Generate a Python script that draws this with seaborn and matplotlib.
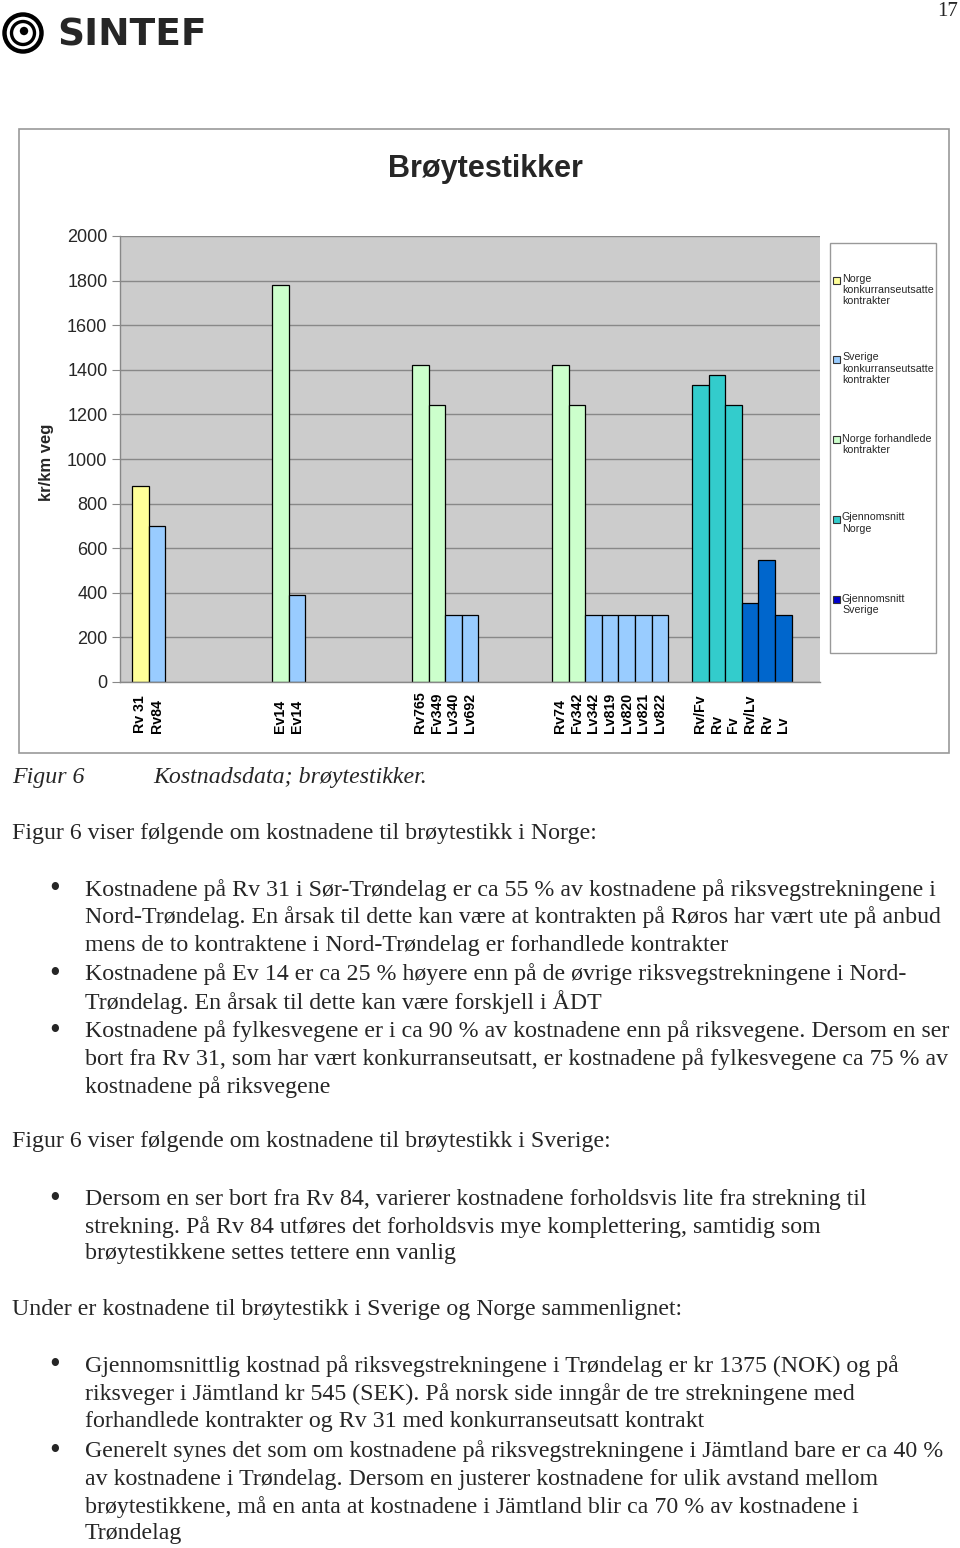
import numpy as np
import pandas as pd
import matplotlib
matplotlib.use("Agg")
import matplotlib.pyplot as plt
from matplotlib.patches import Rectangle, Ellipse
import seaborn as sns

# ---------------- data ----------------
groups = ["G1", "G2", "G3", "G4", "G5"]
g1_labels = ["Rv 31", "Rv84"]
g1_values = [880, 700]
g1_types = ["NK", "SK"]
g2_labels = ["Ev14", "Ev14"]
g2_values = [1780, 390]
g2_types = ["NF", "SK"]
g3_labels = ["Rv765", "Fv349", "Lv340", "Lv692"]
g3_values = [1420, 1240, 300, 300]
g3_types = ["NF", "NF", "SK", "SK"]
g4_labels = ["Rv74", "Fv342", "Lv342", "Lv819", "Lv820", "Lv821", "Lv822"]
g4_values = [1420, 1240, 300, 300, 300, 300, 300]
g4_types = ["NF", "NF", "SK", "SK", "SK", "SK", "SK"]
g5_labels = ["Rv/Fv", "Rv", "Fv", "Rv/Lv", "Rv", "Lv"]
g5_values = [1330, 1375, 1240, 355, 545, 300]
g5_types = ["GN", "GN", "GN", "GS", "GS", "GS"]

type_colors = {"NK": "#FFFF99", "SK": "#99CCFF", "NF": "#CCFFCC",
               "GN": "#33CCCC", "GS": "#0066CC"}
legend_labels = ["Norge\nkonkurranseutsatte\nkontrakter",
                 "Sverige\nkonkurranseutsatte\nkontrakter",
                 "Norge forhandlede\nkontrakter",
                 "Gjennomsnitt\nNorge",
                 "Gjennomsnitt\nSverige"]
legend_colors = ["#FFFF99", "#99CCFF", "#CCFFCC", "#33CCCC", "#0000CC"]
y_ticks = list(range(0, 2001, 200))

rows = []
for g, (labs, vals, typs) in zip(groups, [(g1_labels, g1_values, g1_types),
                                          (g2_labels, g2_values, g2_types),
                                          (g3_labels, g3_values, g3_types),
                                          (g4_labels, g4_values, g4_types),
                                          (g5_labels, g5_values, g5_types)]):
    for i, (l, v, t) in enumerate(zip(labs, vals, typs)):
        rows.append({"group": g, "slot": f"s{i}", "value": v, "type": t, "label": l})
df = pd.DataFrame(rows)
slot_order = [f"s{i}" for i in range(7)]

# ---------------- figure ----------------
W, H = 960, 1548
sns.set_style("white")
plt.rcParams["font.family"] = ["Liberation Sans", "DejaVu Sans"]
fig = plt.figure(figsize=(W / 100, H / 100), dpi=100)


def fx(x):
    return x / W


def fy(y):
    return 1 - y / H


# chart outer frame (behind the axes)
fig.patches.append(Rectangle((fx(19), fy(753)), fx(949) - fx(19), fy(129) - fy(753),
                             transform=fig.transFigure, facecolor="white",
                             edgecolor="#999999", lw=1.2, zorder=-5))

ax = fig.add_axes([fx(120), fy(682), fx(820) - fx(120), fy(236) - fy(682)])
ax.set_zorder(2)
ax.set_facecolor("#CCCCCC")
W_GROUP = 0.83
sns.barplot(data=df, x="group", y="value", hue="slot", order=groups,
            hue_order=slot_order, dodge=True, width=W_GROUP, gap=0,
            edgecolor="black", linewidth=0.9, legend=False, ax=ax,
            palette=["#ffffff"] * 7, saturation=1)

bw = W_GROUP / 7
for p in ax.patches:
    if not isinstance(p, Rectangle) or p.get_width() == 0 or np.isnan(p.get_height()):
        continue
    cx = p.get_x() + p.get_width() / 2
    gi = int(round(cx))
    si = int(round((cx - gi + W_GROUP / 2) / bw - 0.5))
    r = df[(df.group == groups[gi]) & (df.slot == f"s{si}")]
    if len(r):
        p.set_facecolor(type_colors[r.type.iloc[0]])
        lab = r.label.iloc[0]
        ax.text(cx, -0.115, lab, transform=ax.get_xaxis_transform(),
                rotation=90, rotation_mode="anchor", ha="left", va="center",
                fontsize=10.2, fontweight="bold", color="black", clip_on=False)

ax.set_xlim(-0.5, 4.5)
ax.set_ylim(0, 2000)
ax.set_yticks(y_ticks)
ax.set_yticklabels([str(t) for t in y_ticks], fontsize=13)
ax.set_xticks([])
ax.set_xticks(np.arange(-0.5, 4.6, 1.0), minor=True)
ax.tick_params(axis="x", which="minor", length=6, width=0.8, color="#888888", direction="out")
ax.tick_params(axis="y", which="major", length=6, width=0.8, color="#888888",
               direction="out", pad=3, left=True)
ax.set_xlabel("")
ax.set_ylabel("")
ax.yaxis.grid(True, color="#888888", lw=1)
ax.set_axisbelow(True)
for s in ["top", "right"]:
    ax.spines[s].set_visible(False)
for s in ["left", "bottom"]:
    ax.spines[s].set_color("#888888")
    ax.spines[s].set_linewidth(1)

fig.text(fx(485), fy(169), "Brøytestikker", fontsize=22, fontweight="bold",
         ha="center", va="center")
fig.text(fx(47), fy(462), "kr/km veg", fontsize=12, fontweight="bold",
         rotation=90, ha="center", va="center")

# legend
fig.patches.append(Rectangle((fx(830), fy(653)), fx(936) - fx(830), fy(243) - fy(653),
                             transform=fig.transFigure, facecolor="white",
                             edgecolor="#999999", lw=1))
leg_y = [280, 359, 440, 519, 600]
for y, lab, c in zip(leg_y, legend_labels, legend_colors):
    fig.patches.append(Rectangle((fx(833), fy(y + 3.5)), fx(7), 7 / H,
                                 transform=fig.transFigure, facecolor=c,
                                 edgecolor="#333333", lw=0.8))
    fig.text(fx(842), fy(y - 6.5), lab, fontsize=7.7, ha="left", va="top",
             linespacing=1.15)

# ---------------- page decoration ----------------
fig.text(fx(958), fy(12), "17", fontsize=15, family="Liberation Serif",
         ha="right", va="center")


def ell(cx, cy, r, **kw):
    fig.patches.append(Ellipse((fx(cx), fy(cy)), 2 * r / W, 2 * r / H,
                               transform=fig.transFigure, **kw))


ell(23, 33, 18.5, facecolor="none", edgecolor="black", lw=3.2)
ell(23, 33, 11.5, facecolor="none", edgecolor="black", lw=2.4)
ell(24, 31, 4.2, facecolor="black", edgecolor="none")
fig.text(fx(57), fy(35), "SINTEF", fontsize=27, fontweight="bold",
         family="DejaVu Sans", ha="left", va="center")

# ---------------- body text ----------------
SERIF = "Liberation Serif"
FS = 17.2
fig.text(fx(12), fy(778), "Figur 6", fontsize=FS, style="italic", family=SERIF, va="center")
fig.text(fx(153), fy(778), "Kostnadsdata; brøytestikker.", fontsize=FS, style="italic",
         family=SERIF, va="center")

plain = [
    (12, 833, "Figur 6 viser følgende om kostnadene til brøytestikk i Norge:"),
    (12, 1142, "Figur 6 viser følgende om kostnadene til brøytestikk i Sverige:"),
    (12, 1309, "Under er kostnadene til brøytestikk i Sverige og Norge sammenlignet:"),
]
bullet_lines = [
    (890, True, "Kostnadene på Rv 31 i Sør-Trøndelag er ca 55 % av kostnadene på riksvegstrekningene i"),
    (917, False, "Nord-Trøndelag. En årsak til dette kan være at kontrakten på Røros har vært ute på anbud"),
    (945, False, "mens de to kontraktene i Nord-Trøndelag er forhandlede kontrakter"),
    (974, True, "Kostnadene på Ev 14 er ca 25 % høyere enn på de øvrige riksvegstrekningene i Nord-"),
    (1002, False, "Trøndelag. En årsak til dette kan være forskjell i ÅDT"),
    (1031, True, "Kostnadene på fylkesvegene er i ca 90 % av kostnadene enn på riksvegene. Dersom en ser"),
    (1059, False, "bort fra Rv 31, som har vært konkurranseutsatt, er kostnadene på fylkesvegene ca 75 % av"),
    (1087, False, "kostnadene på riksvegene"),
    (1199, True, "Dersom en ser bort fra Rv 84, varierer kostnadene forholdsvis lite fra strekning til"),
    (1227, False, "strekning. På Rv 84 utføres det forholdsvis mye komplettering, samtidig som"),
    (1254, False, "brøytestikkene settes tettere enn vanlig"),
    (1366, True, "Gjennomsnittlig kostnad på riksvegstrekningene i Trøndelag er kr 1375 (NOK) og på"),
    (1394, False, "riksveger i Jämtland kr 545 (SEK). På norsk side inngår de tre strekningene med"),
    (1422, False, "forhandlede kontrakter og Rv 31 med konkurranseutsatt kontrakt"),
    (1451, True, "Generelt synes det som om kostnadene på riksvegstrekningene i Jämtland bare er ca 40 %"),
    (1479, False, "av kostnadene i Trøndelag. Dersom en justerer kostnadene for ulik avstand mellom"),
    (1507, False, "brøytestikkene, må en anta at kostnadene i Jämtland blir ca 70 % av kostnadene i"),
    (1534, False, "Trøndelag"),
]
for x, y, t in plain:
    fig.text(fx(x), fy(y), t, fontsize=FS, family=SERIF, va="center", ha="left")
for y, b, t in bullet_lines:
    if b:
        fig.text(fx(55), fy(y), "•", fontsize=22, family=SERIF, va="center", ha="center")
    fig.text(fx(85), fy(y), t, fontsize=FS, family=SERIF, va="center", ha="left")

fig.savefig("out.png", dpi=100)
